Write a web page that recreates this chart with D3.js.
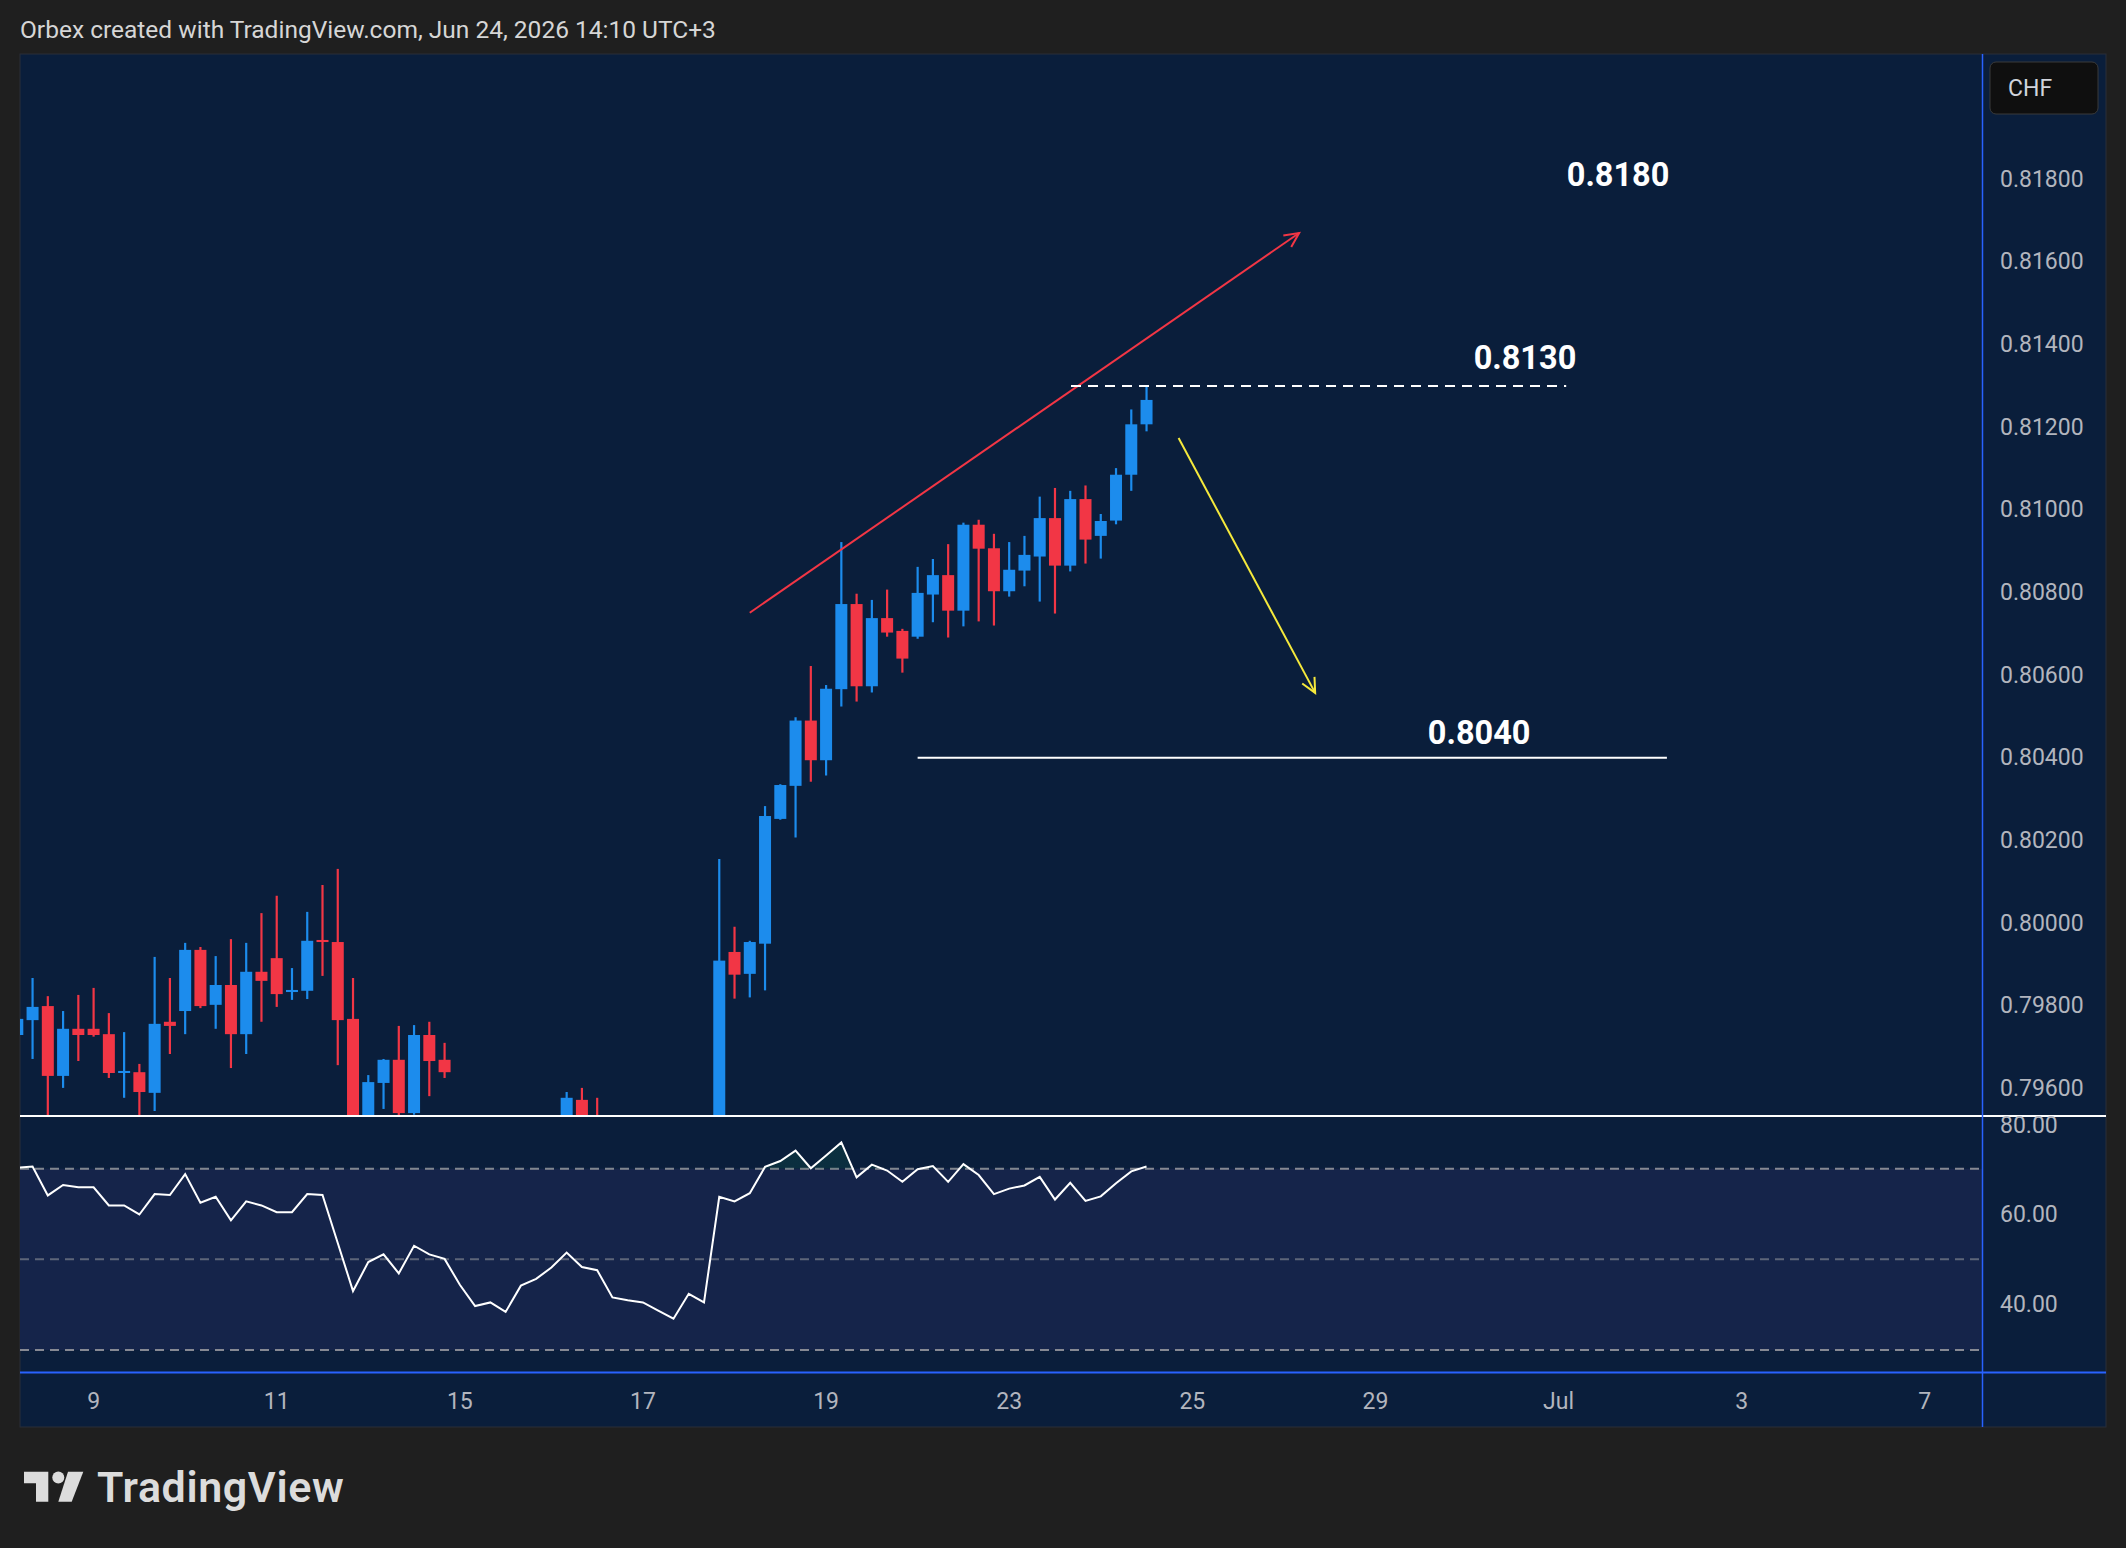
<!DOCTYPE html>
<html>
<head>
<meta charset="utf-8">
<script src="https://cdn.jsdelivr.net/npm/d3@7/dist/d3.min.js"></script>
<style>
  html, body { margin: 0; padding: 0; background: #1f1f1f; }
  svg { display: block; font-family: Roboto, "Noto Sans", sans-serif; }
</style>
</head>
<body>
<svg id="chart" width="2126" height="1548"></svg>
<script>
// 4H bars, bar 0 = Jun 9 00:00, first visible bar is -5
const firstBar = -5;

const opens = [
  0.79729, 0.79765, 0.79799, 0.79630, 0.79744, 0.79744, 0.79731, 0.79637, 0.79639, 0.79589,
  0.79761, 0.79787, 0.79935, 0.79802, 0.79850, 0.79731, 0.79882, 0.79915, 0.79833, 0.79836,
  0.79959, 0.79954, 0.79768, 0.79460, 0.79613, 0.79669, 0.79540, 0.79729, 0.79669, 0.79490,
  0.79440, 0.79380, 0.79400, 0.79360, 0.79440, 0.79460, 0.79490, 0.79572, 0.79510, 0.79480,
  0.79410, 0.79400, 0.79380, 0.79340, 0.79300, 0.79400, 0.79370, 0.79930, 0.79877, 0.79950,
  0.80252, 0.80332, 0.80490, 0.80394, 0.80566, 0.80772, 0.80573, 0.80738, 0.80707, 0.80693,
  0.80795, 0.80842, 0.80756, 0.80964, 0.80907, 0.80803, 0.80853, 0.80887, 0.80980, 0.80865,
  0.81026, 0.80937, 0.80974, 0.81085, 0.81207
];
const highs = [
  0.79775, 0.79867, 0.79823, 0.79787, 0.79826, 0.79843, 0.79782, 0.79736, 0.79659, 0.79918,
  0.79867, 0.79952, 0.79942, 0.79920, 0.79961, 0.79952, 0.80024, 0.80066, 0.79891, 0.80027,
  0.80092, 0.80131, 0.79867, 0.79632, 0.79671, 0.79751, 0.79753, 0.79761, 0.79710, 0.79520,
  0.79470, 0.79440, 0.79420, 0.79460, 0.79490, 0.79510, 0.79591, 0.79601, 0.79577, 0.79500,
  0.79440, 0.79430, 0.79400, 0.79370, 0.79430, 0.79420, 0.80155, 0.79991, 0.79957, 0.80283,
  0.80336, 0.80498, 0.80622, 0.80576, 0.80922, 0.80797, 0.80782, 0.80807, 0.80712, 0.80862,
  0.80881, 0.80917, 0.80969, 0.80976, 0.80942, 0.80922, 0.80937, 0.81032, 0.81053, 0.81046,
  0.81059, 0.80990, 0.81101, 0.81243, 0.81298
];
const lows = [
  0.79720, 0.79671, 0.79520, 0.79601, 0.79666, 0.79725, 0.79625, 0.79577, 0.79520, 0.79545,
  0.79683, 0.79731, 0.79794, 0.79744, 0.79649, 0.79683, 0.79761, 0.79797, 0.79814, 0.79816,
  0.79872, 0.79656, 0.79420, 0.79440, 0.79550, 0.79520, 0.79536, 0.79581, 0.79625, 0.79400,
  0.79340, 0.79350, 0.79310, 0.79340, 0.79410, 0.79430, 0.79460, 0.79480, 0.79450, 0.79380,
  0.79370, 0.79340, 0.79300, 0.79260, 0.79290, 0.79330, 0.79350, 0.79817, 0.79820, 0.79837,
  0.80250, 0.80207, 0.80342, 0.80357, 0.80524, 0.80536, 0.80558, 0.80693, 0.80606, 0.80688,
  0.80728, 0.80691, 0.80718, 0.80730, 0.80720, 0.80790, 0.80815, 0.80778, 0.80749, 0.80851,
  0.80870, 0.80882, 0.80965, 0.81046, 0.81190
];
const closes = [
  0.79768, 0.79797, 0.79630, 0.79744, 0.79729, 0.79729, 0.79637, 0.79642, 0.79591, 0.79756,
  0.79751, 0.79935, 0.79799, 0.79850, 0.79731, 0.79882, 0.79860, 0.79828, 0.79838, 0.79957,
  0.79954, 0.79765, 0.79460, 0.79615, 0.79669, 0.79540, 0.79729, 0.79666, 0.79639, 0.79440,
  0.79380, 0.79400, 0.79360, 0.79440, 0.79460, 0.79490, 0.79577, 0.79500, 0.79480, 0.79410,
  0.79400, 0.79380, 0.79340, 0.79300, 0.79400, 0.79370, 0.79909, 0.79875, 0.79954, 0.80259,
  0.80334, 0.80490, 0.80394, 0.80567, 0.80772, 0.80573, 0.80738, 0.80703, 0.80640, 0.80799,
  0.80842, 0.80756, 0.80964, 0.80906, 0.80803, 0.80855, 0.80891, 0.80980, 0.80865, 0.81026,
  0.80928, 0.80973, 0.81085, 0.81207, 0.81266
];
const rsiValues = [
  70.2, 70.5, 64.1, 66.4, 65.9, 65.9, 61.9, 61.9, 59.9, 64.4,
  64.2, 68.8, 62.5, 63.8, 58.6, 62.8, 61.9, 60.4, 60.4, 64.4,
  64.2, 53.6, 43.0, 49.4, 51.1, 46.9, 53.0, 51.1, 50.1, 44.4,
  39.7, 40.5, 38.4, 44.2, 45.7, 48.2, 51.5, 48.3, 47.6, 41.6,
  41.0, 40.5, 38.7, 36.9, 42.4, 40.5, 63.8, 62.8, 64.6, 70.4,
  71.7, 74.0, 70.1, 72.9, 75.8, 68.1, 70.9, 69.6, 67.1, 69.9,
  70.6, 67.1, 71.0, 68.6, 64.4, 65.6, 66.3, 68.2, 63.2, 66.9,
  62.9, 63.9, 66.8, 69.4, 70.5
];

const dayTickBars = [0, 12, 24, 36, 48, 60, 72, 84, 96, 108, 120];
const dayTickLabels = ["9", "11", "15", "17", "19", "23", "25", "29", "Jul", "3", "7"];
const priceTicks = [0.796, 0.798, 0.800, 0.802, 0.804, 0.806, 0.808, 0.810, 0.812, 0.814, 0.816, 0.818];
const rsiTicks = [80, 60, 40];
const rsiLevels = [70, 50, 30];

// drawn annotations: [bar, price] pairs
const trendLine = [[43.0, 0.80751], [79.0, 0.81670]];
const dropArrow = [[71.1, 0.81174], [80.05, 0.80557]];
const resistance = { price: 0.8130, from: 64.05, to: 96.5, label: "0.8130", labelBar: 93.8, labelPrice: 0.81368 };
const support = { price: 0.8040, from: 54.0, to: 103.1, label: "0.8040", labelBar: 90.8, labelPrice: 0.80459 };
const target = { label: "0.8180", labelBar: 99.9, labelPrice: 0.81810 };

const candles = opens.map((o, i) => ({
  bar: firstBar + i, o: o, h: highs[i], l: lows[i], c: closes[i]
}));

// layout
const panel = { left: 20, top: 54, right: 2106, bottom: 1427 };
const plotRight = 1982.5;
const mainBottom = 1116;
const rsiBottom = 1372.5;

const svg = d3.select("#chart");

const x = d3.scaleLinear().domain([0, 120]).range([93.6, 93.6 + 120 * 15.26]);
const y = d3.scaleLinear().domain([0.796, 0.818]).range([1088.3, 179.3]);
const yr = d3.scaleLinear().domain([30, 70]).range([1350, 1168.7]);

// page title
svg.append("text")
  .attr("x", 20).attr("y", 38)
  .attr("fill", "#d6d6d6")
  .style("font-size", "24.5px")
  .text("Orbex created with TradingView.com, Jun 24, 2026 14:10 UTC+3");

// chart panel
svg.append("rect")
  .attr("x", panel.left).attr("y", panel.top)
  .attr("width", panel.right - panel.left).attr("height", panel.bottom - panel.top)
  .attr("fill", "#0a1e3b")
  .attr("stroke", "#2a2e39").attr("stroke-width", 1);

let defs = svg.append("defs");
defs.append("clipPath").attr("id", "clipMain")
  .append("rect")
  .attr("x", panel.left).attr("y", panel.top)
  .attr("width", plotRight - panel.left).attr("height", mainBottom - panel.top);
defs.append("clipPath").attr("id", "clipRsi")
  .append("rect")
  .attr("x", panel.left).attr("y", mainBottom + 1)
  .attr("width", plotRight - panel.left).attr("height", rsiBottom - mainBottom - 1);
defs.append("clipPath").attr("id", "clipOver")
  .append("rect")
  .attr("x", panel.left).attr("y", mainBottom + 1)
  .attr("width", plotRight - panel.left).attr("height", yr(70) - mainBottom - 1);
let grad = defs.append("linearGradient").attr("id", "overFill")
  .attr("x1", 0).attr("y1", 0).attr("x2", 0).attr("y2", 1);
grad.append("stop").attr("offset", "0%").attr("stop-color", "#0e5a4a").attr("stop-opacity", 0.3);
grad.append("stop").attr("offset", "100%").attr("stop-color", "#0e5a4a").attr("stop-opacity", 0.05);

// candles
let main = svg.append("g").attr("clip-path", "url(#clipMain)");

let candle = main.selectAll("g.candle")
  .data(candles)
  .enter()
  .append("g")
    .attr("class", "candle");

candle.append("line")
  .attr("x1", d => x(d.bar)).attr("x2", d => x(d.bar))
  .attr("y1", d => y(d.h)).attr("y2", d => y(d.l))
  .attr("stroke", d => d.c >= d.o ? "#1c8ced" : "#f23645")
  .attr("stroke-width", 2.2);

candle.append("rect")
  .attr("x", d => x(d.bar) - 6)
  .attr("width", 12)
  .attr("y", d => y(Math.max(d.o, d.c)))
  .attr("height", d => Math.max(2, y(Math.min(d.o, d.c)) - y(Math.max(d.o, d.c))))
  .attr("fill", d => d.c >= d.o ? "#1c8ced" : "#f23645");

// annotation lines
function arrowLine(g, pts, color) {
  let x1 = x(pts[0][0]), y1 = y(pts[0][1]);
  let x2 = x(pts[1][0]), y2 = y(pts[1][1]);
  g.append("line")
    .attr("x1", x1).attr("y1", y1).attr("x2", x2).attr("y2", y2)
    .attr("stroke", color).attr("stroke-width", 2);
  let a = Math.atan2(y2 - y1, x2 - x1);
  let len = 16, spread = 0.45;
  g.append("path")
    .attr("d", `M${x2 - len * Math.cos(a - spread)},${y2 - len * Math.sin(a - spread)}L${x2},${y2}L${x2 - len * Math.cos(a + spread)},${y2 - len * Math.sin(a + spread)}`)
    .attr("fill", "none").attr("stroke", color).attr("stroke-width", 2);
}

arrowLine(main, trendLine, "#f23645");
arrowLine(main, dropArrow, "#f5e93c");

main.append("line")
  .attr("x1", x(resistance.from)).attr("x2", x(resistance.to))
  .attr("y1", y(resistance.price)).attr("y2", y(resistance.price))
  .attr("stroke", "#ffffff").attr("stroke-width", 2)
  .attr("stroke-dasharray", "10,7");

main.append("line")
  .attr("x1", x(support.from)).attr("x2", x(support.to))
  .attr("y1", y(support.price)).attr("y2", y(support.price))
  .attr("stroke", "#ffffff").attr("stroke-width", 2);

[target, resistance, support].forEach(d => {
  main.append("text")
    .attr("x", x(d.labelBar)).attr("y", y(d.labelPrice))
    .attr("text-anchor", "middle")
    .attr("dominant-baseline", "central")
    .attr("fill", "#ffffff")
    .style("font-size", "32.5px").style("font-weight", "bold")
    .text(d.label);
});

// RSI pane
let rsiG = svg.append("g").attr("clip-path", "url(#clipRsi)");

rsiG.append("rect")
  .attr("x", panel.left).attr("width", plotRight - panel.left)
  .attr("y", yr(70)).attr("height", yr(30) - yr(70))
  .attr("fill", "#15244a");

rsiG.selectAll("line.level")
  .data(rsiLevels)
  .enter()
  .append("line")
    .attr("class", "level")
    .attr("x1", panel.left).attr("x2", plotRight)
    .attr("y1", d => yr(d)).attr("y2", d => yr(d))
    .attr("stroke", d => d === 50 ? "#5d6579" : "#868993")
    .attr("stroke-width", 2)
    .attr("stroke-dasharray", "9,6");

let rsiData = rsiValues.map((v, i) => ({ bar: firstBar + i, v: v }));

rsiG.append("path")
  .datum(rsiData)
  .attr("clip-path", "url(#clipOver)")
  .attr("fill", "url(#overFill)")
  .attr("d", d3.area().x(d => x(d.bar)).y0(yr(70)).y1(d => yr(d.v)));

rsiG.append("path")
  .datum(rsiData)
  .attr("fill", "none")
  .attr("stroke", "#ffffff")
  .attr("stroke-width", 2)
  .attr("d", d3.line().x(d => x(d.bar)).y(d => yr(d.v)));

// separators
svg.append("line")
  .attr("x1", panel.left).attr("x2", panel.right)
  .attr("y1", mainBottom).attr("y2", mainBottom)
  .attr("stroke", "#ffffff").attr("stroke-width", 2);

svg.append("line")
  .attr("x1", panel.left).attr("x2", panel.right)
  .attr("y1", rsiBottom).attr("y2", rsiBottom)
  .attr("stroke", "#2962ff").attr("stroke-width", 2);

svg.append("line")
  .attr("x1", plotRight).attr("x2", plotRight)
  .attr("y1", panel.top).attr("y2", panel.bottom)
  .attr("stroke", "#2962ff").attr("stroke-width", 1.5);

// price axis
svg.append("g")
  .selectAll("text")
  .data(priceTicks)
  .enter()
  .append("text")
    .attr("x", 2000).attr("y", d => y(d))
    .attr("dominant-baseline", "central")
    .attr("fill", "#b2b5be")
    .style("font-size", "23px")
    .text(d => d.toFixed(5));

svg.append("g")
  .selectAll("text")
  .data(rsiTicks)
  .enter()
  .append("text")
    .attr("x", 2000).attr("y", d => d === 80 ? yr(d) + 2 : yr(d))
    .attr("dominant-baseline", "central")
    .attr("fill", "#b2b5be")
    .style("font-size", "23px")
    .text(d => d.toFixed(2));

// currency badge
svg.append("rect")
  .attr("x", 1990).attr("y", 62)
  .attr("width", 108).attr("height", 52)
  .attr("rx", 6)
  .attr("fill", "#0f0f0f").attr("stroke", "#3a3a3a");
svg.append("text")
  .attr("x", 2008).attr("y", 88)
  .attr("dominant-baseline", "central")
  .attr("fill", "#d1d4dc")
  .style("font-size", "23px")
  .text("CHF");

// time axis
svg.append("g")
  .selectAll("text")
  .data(dayTickBars)
  .enter()
  .append("text")
    .attr("x", d => x(d)).attr("y", 1401)
    .attr("text-anchor", "middle")
    .attr("dominant-baseline", "central")
    .attr("fill", "#b2b5be")
    .style("font-size", "23px")
    .text((d, i) => dayTickLabels[i]);

// logo
let logo = svg.append("g").attr("fill", "#dcdcdc");
logo.append("path").attr("d", "M24,1471.7H48.3V1501.7H36V1483.3H24Z");
logo.append("circle").attr("cx", 58.3).attr("cy", 1477.5).attr("r", 6);
logo.append("path").attr("d", "M68,1471.7H83.3L71.7,1501.7H58.3Z");
logo.append("text")
  .attr("x", 97).attr("y", 1501.7)
  .style("font-size", "43px").style("font-weight", "600")
  .style("letter-spacing", "0.6px")
  .text("TradingView");
</script>
</body>
</html>
